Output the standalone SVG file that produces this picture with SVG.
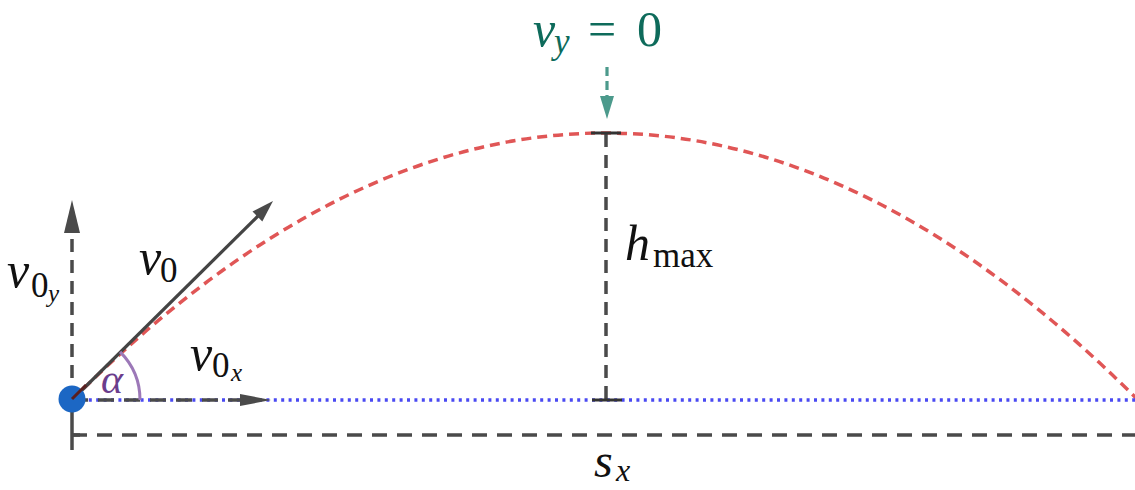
<svg xmlns="http://www.w3.org/2000/svg" width="1135" height="490" viewBox="0 0 1135 490">
<style>
.bg{fill:#ffffff}
.axis{stroke:#4a4a4a;stroke-width:3.5;fill:none}
.dash{stroke:#4a4a4a;stroke-width:3.5;fill:none;stroke-dasharray:13 8}
.base{stroke:#4a4a4a;stroke-width:3.5;fill:none;stroke-dasharray:15 10}
.traj{stroke:#e05656;stroke-width:3.5;fill:none;stroke-dasharray:10 6}
.dot{stroke:#4a4af2;stroke-width:3.5;fill:none;stroke-dasharray:3 4.4}
.head{fill:#4a4a4a}
.teal{stroke:#4c9a8c;stroke-width:3.2;fill:none;stroke-dasharray:9 5}
.tick{stroke:#333333;stroke-width:3}
.t{font-family:"Liberation Serif","DejaVu Serif",serif;fill:#111111}
.i{font-style:italic}
</style>
<rect class="bg" x="0" y="0" width="1135" height="490"/>
<g id="connectors">
  <path class="traj" d="M72,400 Q605,-134 1138,400"/>
  <line class="dot" x1="74" y1="400" x2="1135" y2="400"/>
  <line class="base" x1="72" y1="435" x2="1135" y2="435"/>
  <line class="axis" x1="72" y1="400" x2="72" y2="450"/>
  <line class="axis" x1="72" y1="435" x2="80" y2="435"/>
  <line class="dash" x1="72" y1="399" x2="72" y2="232"/>
  <polygon class="head" points="72,200 64,233 80,233"/>
  <line class="dash" x1="72" y1="400" x2="242" y2="400" style="stroke-dasharray:16 10"/>
  <polygon class="head" points="271,400 240,394 240,406"/>
  <line x1="72" y1="400" x2="258" y2="216" stroke="#444444" stroke-width="3.2"/>
  <polygon class="head" points="273,201 262.3,221.5 252.5,211.5"/>
  <line class="dash" x1="606" y1="134" x2="606" y2="400"/>
  <line class="tick" x1="591" y1="133" x2="621" y2="133"/>
  <line class="tick" x1="592" y1="400" x2="622" y2="400"/>
  <line class="teal" x1="607" y1="67" x2="607" y2="98"/>
  <polygon fill="#4c9a8c" points="607,119 600,96 614,96"/>
  <path d="M140,400 A68,68 0 0 0 120.1,351.9" stroke="#9c78b8" stroke-width="3" fill="none"/>
</g>
<g id="origin">
  <circle cx="72" cy="399" r="13.5" fill="#1c67c4"/>
  <line x1="72" y1="399" x2="86" y2="385" stroke="#5a1f1f" stroke-width="3"/>
</g>
<g id="label-vy0">
  <text class="t" style="fill:#0e6b5b" font-size="50"><tspan class="i" x="533" y="46">v</tspan><tspan class="i" x="554" y="53" font-size="35">y</tspan><tspan x="588" y="46">=</tspan><tspan x="637" y="46">0</tspan></text>
</g>
<g id="label-v0">
  <text class="t" font-size="50"><tspan class="i" x="139" y="274">v</tspan><tspan x="160" y="282" font-size="35">0</tspan></text>
</g>
<g id="label-v0y">
  <text class="t" font-size="50"><tspan class="i" x="7" y="287">v</tspan><tspan x="31" y="297" font-size="35">0</tspan><tspan class="i" x="48" y="302" font-size="25">y</tspan></text>
</g>
<g id="label-v0x">
  <text class="t" font-size="50"><tspan class="i" x="190" y="370">v</tspan><tspan x="212" y="377" font-size="35">0</tspan><tspan class="i" x="231" y="381" font-size="25">x</tspan></text>
</g>
<g id="label-alpha">
  <text class="t i" x="101" y="393" font-size="42" style="fill:#6b3d8c">α</text>
</g>
<g id="label-hmax">
  <text class="t" font-size="50"><tspan class="i" x="625" y="260">h</tspan><tspan x="653" y="267" font-size="35">max</tspan></text>
</g>
<g id="label-sx">
  <text class="t" font-size="48"><tspan class="i" x="594" y="477">s</tspan><tspan class="i" x="616" y="481" font-size="32">x</tspan></text>
</g>
</svg>
